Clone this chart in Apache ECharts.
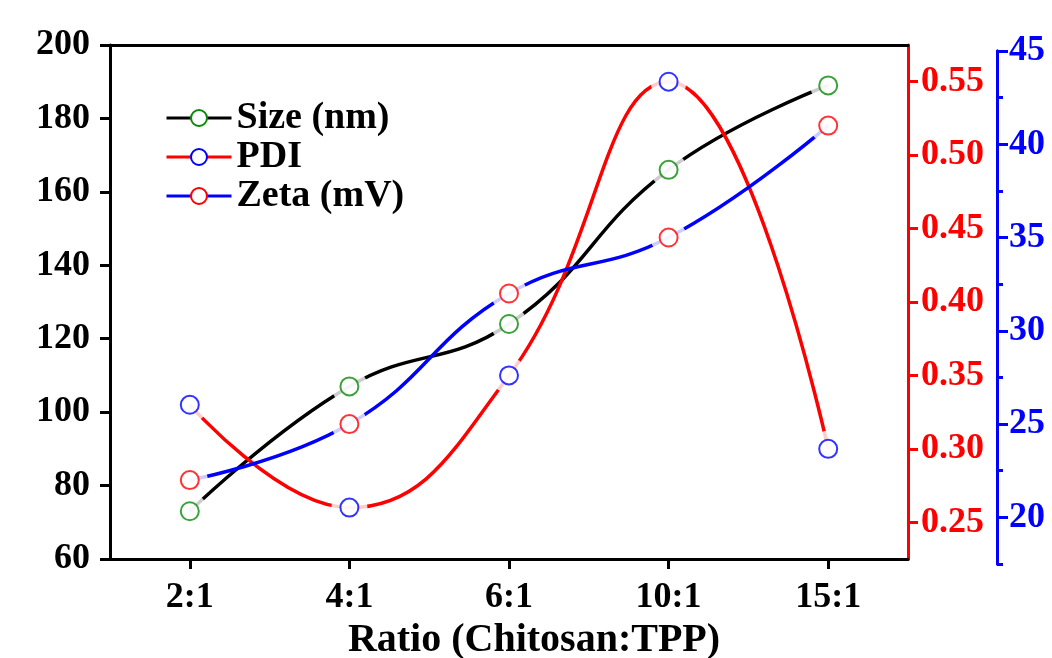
<!DOCTYPE html>
<html>
<head>
<meta charset="utf-8">
<script src="https://cdn.jsdelivr.net/npm/echarts@6/dist/echarts.min.js"></script>
<style>
  html, body { margin: 0; padding: 0; background: #fff; }
  #chart { width: 1052px; height: 658px; }
</style>
</head>
<body>
<div id="chart"></div>
<script>
// data
const ratios = ["2:1", "4:1", "6:1", "10:1", "15:1"];
const sizeNm = [73, 107, 124, 166, 189];
const pdi = [0.33, 0.26, 0.35, 0.55, 0.30];
const zetaMv = [22, 25, 32, 35, 41];

// tick labels
const pdiTicks = [0.25, 0.30, 0.35, 0.40, 0.45, 0.50, 0.55];
const zetaTicks = [20, 25, 30, 35, 40, 45];
const zetaMinorTicks = [17.5, 22.5, 27.5, 32.5, 37.5, 42.5];

const FONT = "Liberation Serif";
const RED = "#ff0000";
const BLUE = "#0000ff";
const GREEN = "#0a8a0a";

const chart = echarts.init(document.getElementById("chart"));

const label = (color, margin) => ({
	fontFamily: FONT,
	fontWeight: "bold",
	fontSize: 36,
	color,
	margin,
});

const axisStyle = (color) => ({
	axisLine: { show: true, lineStyle: { color, width: 3 } },
	axisTick: { show: true, inside: false, length: 10, lineStyle: { color, width: 3 } },
	splitLine: { show: false },
});

// line + gap disk + hollow marker for one series
function makeSeries(name, data, xi, yi, lineColor, markColor) {
	return [
		{
			name,
			type: "line",
			xAxisIndex: xi,
			yAxisIndex: yi,
			data,
			smooth: 0.45,
			symbol: "emptyCircle",
			showSymbol: false,
			lineStyle: { color: lineColor, width: 3.5 },
			itemStyle: { color: lineColor },
			z: 2,
		},
		{
			name: name + " gap",
			type: "scatter",
			xAxisIndex: xi,
			yAxisIndex: yi,
			data,
			symbol: "circle",
			symbolSize: 36,
			itemStyle: { color: "#fff" },
			silent: true,
			z: 3,
		},
		{
			name: name + " mark",
			type: "scatter",
			xAxisIndex: xi,
			yAxisIndex: yi,
			data,
			symbol: "emptyCircle",
			symbolSize: 18,
			itemStyle: { color: markColor, borderColor: markColor, borderWidth: 2 },
			silent: true,
			z: 4,
		},
	];
}

const option = {
	backgroundColor: "#fff",
	animation: false,
	grid: [
		{ left: 110, right: 144, top: 45, bottom: 99, outerBoundsMode: "none" },
		{ left: 110, right: 144, top: 51, bottom: 94, outerBoundsMode: "none" },
	],
	legend: {
		left: 165,
		top: 99,
		orient: "vertical",
		padding: 0,
		itemWidth: 65,
		itemHeight: 20,
		itemGap: 1,
		selectedMode: false,
		lineStyle: { width: 3 },
		textStyle: { fontFamily: FONT, fontWeight: "bold", fontSize: 38, lineHeight: 36, color: "#000" },
		data: [
			{ name: "Size (nm)", itemStyle: { color: GREEN } },
			{ name: "PDI", itemStyle: { color: BLUE } },
			{ name: "Zeta (mV)", itemStyle: { color: RED } },
		],
	},
	xAxis: [
		{
			type: "category",
			gridIndex: 0,
			position: "bottom",
			data: ratios,
			boundaryGap: true,
			...axisStyle("#000"),
			axisTick: { show: true, alignWithLabel: true, length: 10, lineStyle: { color: "#000", width: 3 } },
			axisLabel: label("#000", 21),
			name: "Ratio (Chitosan:TPP)",
			nameLocation: "middle",
			nameGap: 58,
			nameTextStyle: { fontFamily: FONT, fontWeight: "bold", fontSize: 40, color: "#000", padding: [0, 0, 0, 50] },
		},
		{
			type: "category",
			gridIndex: 0,
			position: "top",
			data: ratios,
			axisLine: { show: true, lineStyle: { color: "#000", width: 3 } },
			axisTick: { show: false },
			axisLabel: { show: false },
		},
		{
			type: "category",
			gridIndex: 1,
			data: ratios,
			boundaryGap: true,
			show: false,
		},
	],
	yAxis: [
		{
			type: "value",
			gridIndex: 0,
			position: "left",
			min: 60,
			max: 200,
			interval: 20,
			...axisStyle("#000"),
			axisLabel: label("#000", 20),
		},
		{
			type: "value",
			gridIndex: 0,
			position: "right",
			min: 0.225,
			max: 0.575,
			...axisStyle(RED),
			axisTick: { show: true, length: 10, customValues: pdiTicks, lineStyle: { color: RED, width: 3 } },
			axisLabel: { ...label(RED, 13), customValues: pdiTicks, formatter: (v) => v.toFixed(2) },
		},
		{
			type: "value",
			gridIndex: 1,
			position: "right",
			offset: 89,
			min: 17.5,
			max: 45,
			...axisStyle(BLUE),
			axisTick: { show: true, length: 11, customValues: zetaTicks, lineStyle: { color: BLUE, width: 3 } },
			axisLabel: { ...label(BLUE, 12), customValues: zetaTicks },
		},
		{
			type: "value",
			gridIndex: 1,
			position: "right",
			offset: 89,
			min: 17.5,
			max: 45,
			...axisStyle(BLUE),
			axisTick: { show: true, length: 6, customValues: zetaMinorTicks, lineStyle: { color: BLUE, width: 3 } },
			axisLabel: { show: false },
		},
	],
	series: [
		...makeSeries("Size (nm)", sizeNm, 0, 0, "#000", GREEN),
		...makeSeries("PDI", pdi, 0, 1, RED, BLUE),
		...makeSeries("Zeta (mV)", zetaMv, 2, 2, BLUE, RED),
	],
};

chart.setOption(option);
</script>
</body>
</html>
